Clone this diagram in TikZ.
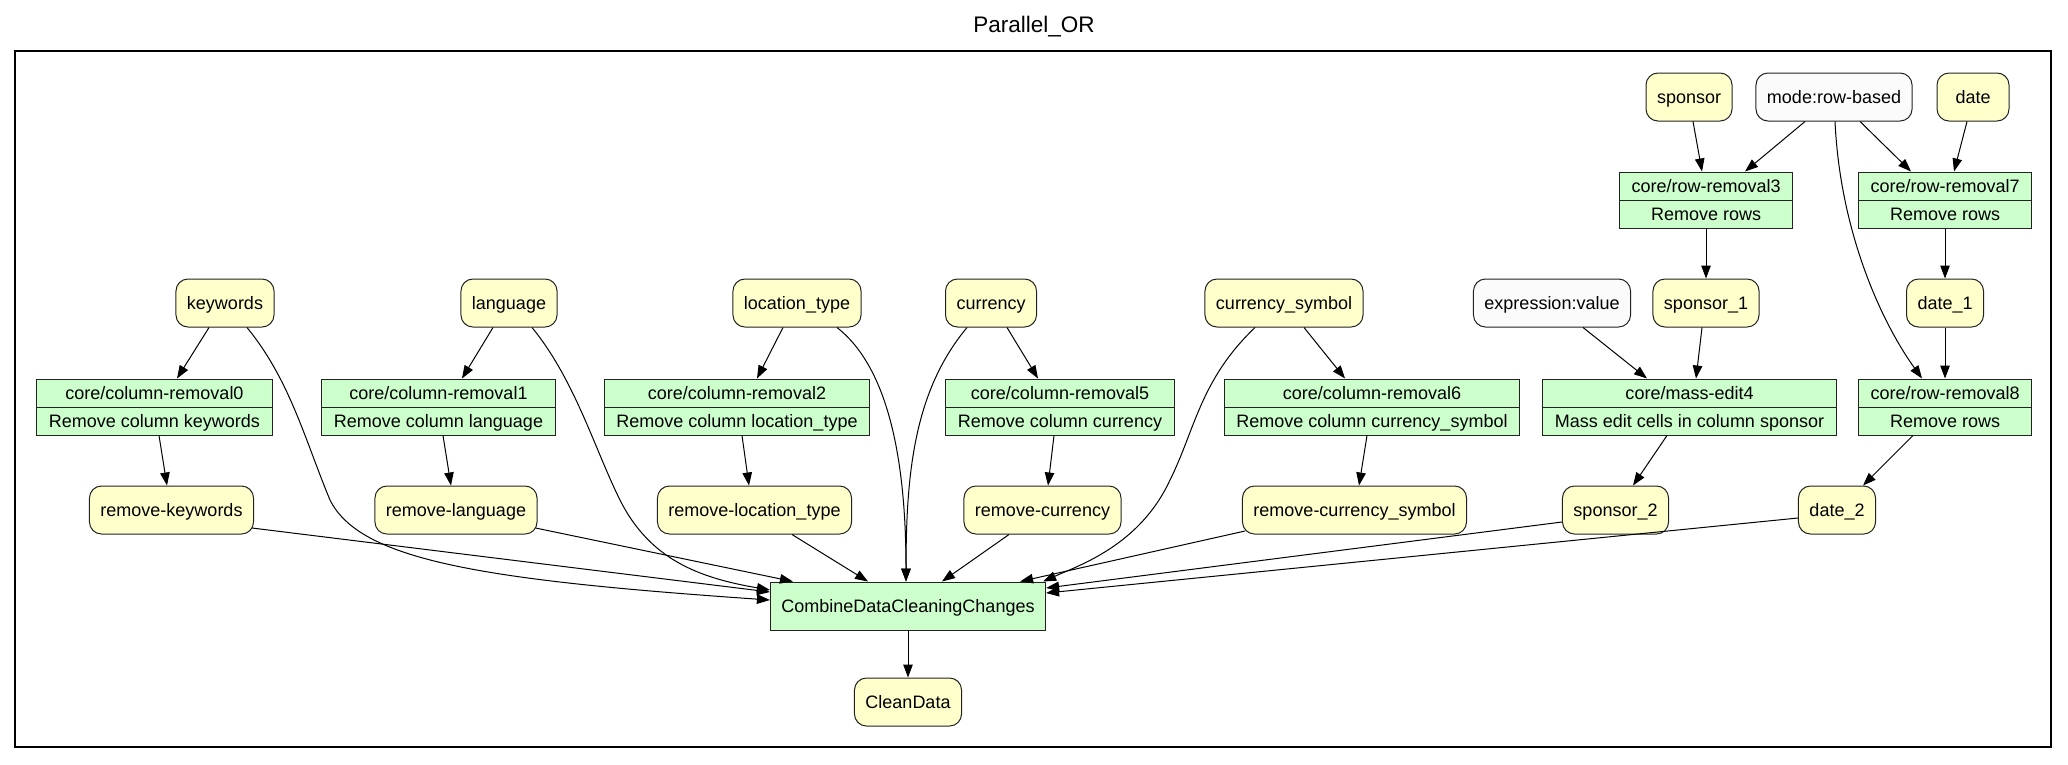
\documentclass[tikz,border=0pt]{standalone}
\usepackage{fontspec}
\setmainfont{Liberation Sans}
\usetikzlibrary{shapes.multipart, arrows.meta}
\definecolor{datafill}{HTML}{FFFFCC}
\definecolor{stepfill}{HTML}{CCFFCC}
\definecolor{paramfill}{HTML}{FBFBFB}
\definecolor{linecol}{HTML}{222222}
\tikzset{
  % rounded box = data item / parameter
  datanode/.style={rectangle, rounded corners=12pt, draw=linecol, fill=#1,
                   line width=1pt, minimum height=48pt, minimum width=72pt,
                   inner xsep=11pt, text height=16pt, text depth=3pt},
  % two-field box = cleaning step
  stepnode/.style={rectangle split, rectangle split parts=2, draw=linecol,
                   fill=stepfill, line width=1pt, inner xsep=12pt, inner ysep=3.5pt},
  % plain box = combine step
  opnode/.style={rectangle, draw=linecol, fill=stepfill, line width=1pt,
                 minimum height=48pt, inner xsep=11pt, text height=16pt, text depth=3pt},
  flow/.style={-{Triangle[length=13pt,width=9.5pt]}, line width=1pt},
}
\newcommand{\fld}{\rule[-4pt]{0pt}{20pt}}

\begin{document}
\begin{tikzpicture}[x=1pt, y=-1pt, font=\fontsize{18}{21}\selectfont]
  \useasboundingbox (0,0) rectangle (2068,764);
  \draw[line width=2.4pt] (15,51) rectangle (2051,747);
  \node[font=\fontsize{22.5}{26}\selectfont] (title) at (1034,27) {Parallel\_OR};

  % inputs
  \node[datanode=datafill]  (sponsor) at (1689,97) {sponsor};
  \node[datanode=paramfill] (moderb)  at (1834,97) {mode:row-based};
  \node[datanode=datafill]  (date)    at (1973,97) {date};
  \node[stepnode] (rowrem3) at (1706,200) {\fld core/row-removal3\nodepart{two}\fld Remove rows};
  \node[stepnode] (rowrem7) at (1945,200) {\fld core/row-removal7\nodepart{two}\fld Remove rows};

  \node[datanode=datafill]  (keywords) at (225,303)  {keywords};
  \node[datanode=datafill]  (language) at (509,303)  {language};
  \node[datanode=datafill]  (loctype)  at (797,303)  {location\_type};
  \node[datanode=datafill]  (currency) at (991,303)  {currency};
  \node[datanode=datafill]  (cursym)   at (1284,303) {currency\_symbol};
  \node[datanode=paramfill] (exprval)  at (1552,303) {expression:value};
  \node[datanode=datafill]  (sponsor1) at (1706,303) {sponsor\_1};
  \node[datanode=datafill]  (date1)    at (1945,303) {date\_1};

  % steps
  \node[stepnode] (colrem0)   at (154.5,407)  {\fld core/column-removal0\nodepart{two}\fld Remove column keywords};
  \node[stepnode] (colrem1)   at (438.5,407)  {\fld core/column-removal1\nodepart{two}\fld Remove column language};
  \node[stepnode] (colrem2)   at (737,407)    {\fld core/column-removal2\nodepart{two}\fld Remove column location\_type};
  \node[stepnode] (colrem5)   at (1060,407)   {\fld core/column-removal5\nodepart{two}\fld Remove column currency};
  \node[stepnode] (colrem6)   at (1372,407)   {\fld core/column-removal6\nodepart{two}\fld Remove column currency\_symbol};
  \node[stepnode] (massedit4) at (1689.5,407) {\fld core/mass-edit4\nodepart{two}\fld Mass edit cells in column sponsor};
  \node[stepnode] (rowrem8)   at (1945,407)   {\fld core/row-removal8\nodepart{two}\fld Remove rows};

  % outputs
  \node[datanode=datafill] (rmkeywords) at (171.5,510)  {remove-keywords};
  \node[datanode=datafill] (rmlanguage) at (456,510)    {remove-language};
  \node[datanode=datafill] (rmloctype)  at (754.5,510)  {remove-location\_type};
  \node[datanode=datafill] (rmcurrency) at (1042.5,510) {remove-currency};
  \node[datanode=datafill] (rmcursym)   at (1354.5,510) {remove-currency\_symbol};
  \node[datanode=datafill] (sponsor2)   at (1615.5,510) {sponsor\_2};
  \node[datanode=datafill] (date2)      at (1837,510)   {date\_2};

  \node[opnode] (combine) at (908,606) {CombineDataCleaningChanges};
  \node[datanode=datafill] (cleandata) at (908,702) {CleanData};

  % column removals
  \draw[flow] ([xshift=-16pt]keywords.south) -- ([xshift=22.5pt]colrem0.north);
  \draw[flow] ([xshift=-16pt]language.south) -- ([xshift=23.5pt]colrem1.north);
  \draw[flow] ([xshift=-14pt]loctype.south)  -- ([xshift=20pt]colrem2.north);
  \draw[flow] ([xshift=16pt]currency.south)  -- ([xshift=-22pt]colrem5.north);
  \draw[flow] ([xshift=20pt]cursym.south)    -- ([xshift=-27pt]colrem6.north);
  \draw[flow] ([xshift=4.5pt]colrem0.south) -- ([xshift=-4.5pt]rmkeywords.north);
  \draw[flow] ([xshift=4.5pt]colrem1.south) -- ([xshift=-5pt]rmlanguage.north);
  \draw[flow] ([xshift=5pt]colrem2.south)   -- ([xshift=-5.5pt]rmloctype.north);
  \draw[flow] ([xshift=-6pt]colrem5.south)  -- ([xshift=5.5pt]rmcurrency.north);
  \draw[flow] ([xshift=-5pt]colrem6.south)  -- ([xshift=4.5pt]rmcursym.north);

  % row removals and mass edit
  \draw[flow] ([xshift=4pt]sponsor.south)  -- ([xshift=-4pt]rowrem3.north);
  \draw[flow] ([xshift=-29pt]moderb.south) -- ([xshift=39pt]rowrem3.north);
  \draw[flow] ([xshift=26pt]moderb.south)  -- ([xshift=-34pt]rowrem7.north);
  \draw[flow] ([xshift=-6pt]date.south)    -- ([xshift=9pt]rowrem7.north);
  \draw[flow] ([xshift=1pt]moderb.south) .. controls (1840,230) and (1880,320) .. ([xshift=-23pt]rowrem8.north);
  \draw[flow] (rowrem3) -- (sponsor1);
  \draw[flow] (rowrem7) -- (date1);
  \draw[flow] (date1) -- (rowrem8);
  \draw[flow] ([xshift=31pt]exprval.south)   -- ([xshift=-42.5pt]massedit4.north);
  \draw[flow] ([xshift=-4pt]sponsor1.south)  -- ([xshift=6.5pt]massedit4.north);
  \draw[flow] ([xshift=-22.5pt]massedit4.south) -- ([xshift=17.5pt]sponsor2.north);
  \draw[flow] ([xshift=-32pt]rowrem8.south)  -- ([xshift=26pt]date2.north);

  % everything into the combine step
  \draw[flow] ([xshift=22pt]keywords.south) .. controls (290,380) and (305,440) .. (330,500)
    .. controls (360,560) and (480,580) .. ([yshift=6pt]combine.west);
  \draw[flow] ([xshift=23pt]language.south) .. controls (575,380) and (595,450) .. (620,500)
    .. controls (650,560) and (700,578) .. ([yshift=16pt]combine.west);
  \draw[flow] ([xshift=40pt]loctype.south) .. controls (885,365) and (906,450) .. ([xshift=-2pt]combine.north);
  \draw[flow] ([xshift=-24pt]currency.south) .. controls (915,390) and (906,470) .. ([xshift=-2pt]combine.north);
  \draw[flow] ([xshift=-29pt]cursym.south) .. controls (1200,380) and (1195,430) .. (1170,480)
    .. controls (1140,545) and (1080,565) .. ([xshift=-3pt]combine.north east);
  \draw[flow] ([xshift=-2pt,yshift=-18pt]rmkeywords.east) -- ([yshift=14pt]combine.west);
  \draw[flow] ([xshift=-2pt,yshift=-18pt]rmlanguage.east) -- ([xshift=23pt]combine.north west);
  \draw[flow] ([xshift=37.5pt]rmloctype.south)  -- ([xshift=-40pt]combine.north);
  \draw[flow] ([xshift=-33.5pt]rmcurrency.south) -- ([xshift=34pt]combine.north);
  \draw[flow] ([xshift=3pt,yshift=-21pt]rmcursym.west) -- ([xshift=-26pt]combine.north east);
  \draw[flow] ([yshift=-12pt]sponsor2.west) -- ([yshift=18pt]combine.east);
  \draw[flow] ([yshift=-8pt]date2.west)     -- ([yshift=13pt]combine.east);
  \draw[flow] (combine) -- (cleandata);
\end{tikzpicture}
\end{document}
